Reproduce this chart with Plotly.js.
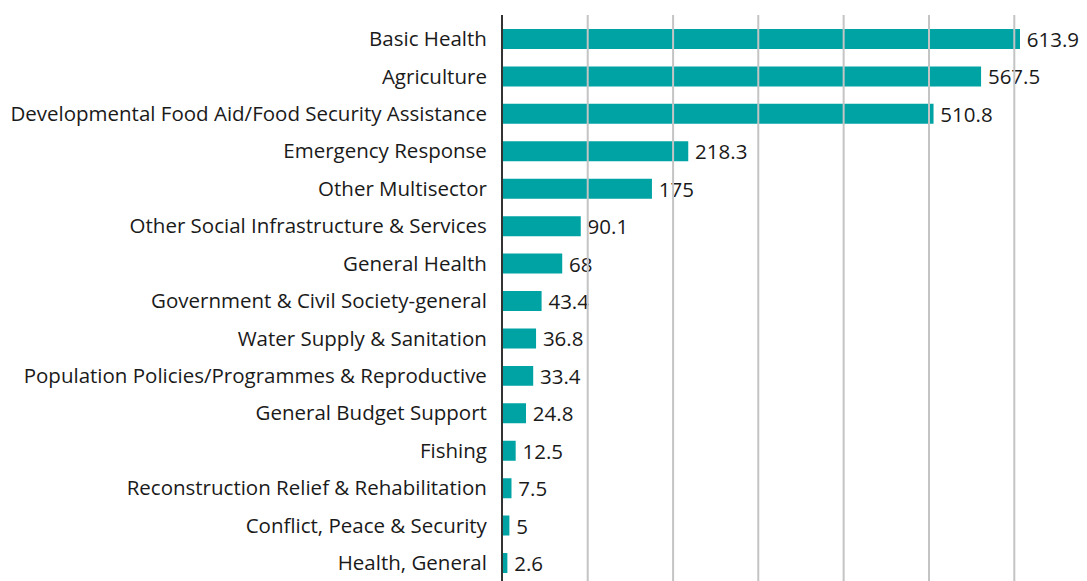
<!DOCTYPE html>
<html>
<head>
<meta charset="utf-8">
<script src="https://cdn.plot.ly/plotly-3.0.1.min.js"></script>
<style>html,body{margin:0;padding:0;background:#fff;}#chart{width:1087px;height:581px;}</style>
</head>
<body>
<div id="chart"></div>
<script>
const categories = [
  "Basic Health",
  "Agriculture",
  "Developmental Food Aid/Food Security Assistance",
  "Emergency Response",
  "Other Multisector",
  "Other Social Infrastructure & Services",
  "General Health",
  "Government & Civil Society-general",
  "Water Supply & Sanitation",
  "Population Policies/Programmes & Reproductive",
  "General Budget Support",
  "Fishing",
  "Reconstruction Relief & Rehabilitation",
  "Conflict, Peace & Security",
  "Health, General"
];
const values = [613.9, 567.5, 510.8, 218.3, 175, 90.1, 68, 43.4, 36.8, 33.4, 24.8, 12.5, 7.5, 5, 2.6];
const valueLabels = ["613.9", "567.5", "510.8", "218.3", "175", "90.1", "68", "43.4", "36.8", "33.4", "24.8", "12.5", "7.5", "5", "2.6"];
const gridValues = [100.2, 202.0, 303.6, 405.4, 507.2, 608.9];

const trace = {
  type: 'bar',
  orientation: 'h',
  y: categories,
  x: values,
  text: valueLabels.map(v => '\u00a0' + v),
  textposition: 'outside',
  constraintext: 'none',
  cliponaxis: true,
  textfont: {family: 'Open Sans', size: 20.5, color: '#1a1a1a'},
  marker: {color: '#00a3a3', line: {color: '#00a3a3', width: 3}},
  width: 0.454,
  hoverinfo: 'none'
};

const shapes = gridValues.map(g => ({
  type: 'line', xref: 'x', yref: 'paper',
  x0: g, x1: g, y0: 0, y1: 1,
  layer: 'above',
  line: {color: '#c4c4c4', width: 2}
}));

const layout = {
  width: 1087, height: 581,
  margin: {l: 503, r: 0, t: 15, b: 0},
  paper_bgcolor: '#fff', plot_bgcolor: '#fff',
  showlegend: false,
  font: {family: 'Open Sans', color: '#1a1a1a'},
  xaxis: {
    range: [-0.83, 695.6],
    showgrid: false, zeroline: false, showticklabels: false,
    showline: false, fixedrange: true
  },
  yaxis: {
    type: 'category',
    range: [14.48, -0.641],
    showgrid: false, zeroline: false,
    showline: true, linecolor: '#333', linewidth: 2,
    ticks: '', ticklabelstandoff: 10,
    tickfont: {family: 'Open Sans', size: 20.5, color: '#1a1a1a'},
    layer: 'above traces', fixedrange: true
  },
  shapes: shapes
};

Plotly.newPlot('chart', [trace], layout, {displayModeBar: false, staticPlot: true});
</script>
</body>
</html>
